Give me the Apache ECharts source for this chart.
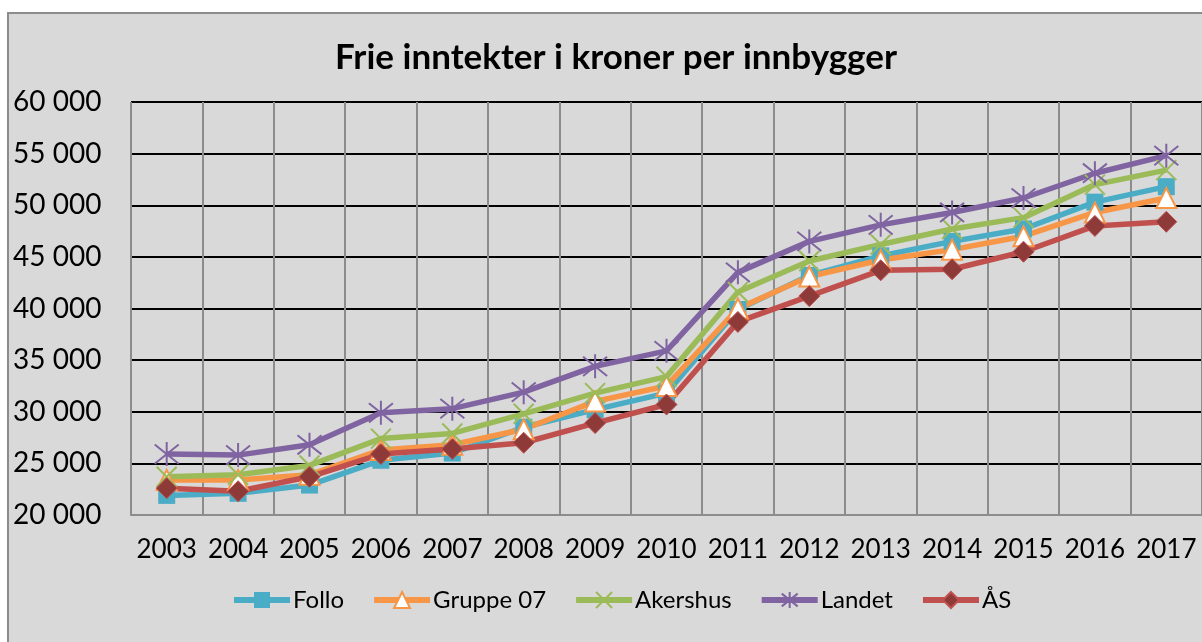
<!DOCTYPE html>
<html>
<head>
<meta charset="utf-8">
<script src="https://cdn.jsdelivr.net/npm/echarts@6/dist/echarts.min.js"></script>
<style>
html,body{margin:0;padding:0;background:#fff;}
#c{width:1202px;height:642px;}
</style>
</head>
<body>
<div id="c"></div>
<script>
const years = ['2003','2004','2005','2006','2007','2008','2009','2010','2011','2012','2013','2014','2015','2016','2017'];
const follo    = [21900, 22100, 22900, 25300, 26000, 28500, 30200, 31800, 39900, 43200, 45100, 46500, 47700, 50300, 51800];
const gruppe07 = [23400, 23400, 23900, 26300, 26800, 28300, 31000, 32500, 40000, 43100, 44700, 45700, 47000, 49300, 50700];
const akershus = [23700, 23900, 24800, 27400, 27900, 29800, 31800, 33400, 41600, 44600, 46200, 47700, 48800, 52000, 53400];
const landet   = [25900, 25800, 26800, 29900, 30300, 31900, 34400, 35900, 43500, 46500, 48100, 49300, 50700, 53100, 54800];
const aas      = [22600, 22300, 23700, 25900, 26400, 27000, 28900, 30700, 38700, 41200, 43700, 43800, 45500, 48000, 48400];
const titleText = 'Frie inntekter i kroner per innbygger';

const FONT = 'Lato, "Open Sans", sans-serif';
const X_PATH = 'path://M0,0L10,10M10,0L0,10';
const STAR_PATH = 'path://M1,1L9,9M9,1L1,9M5,0L5,10';

function fmt(v){ return String(v).replace(/\B(?=(\d{3})+(?!\d))/g, ' '); }

function mk(name, data, color, symbol, size, itemStyle){
  return {
    name: name, type: 'line', data: data,
    symbol: symbol, symbolSize: size,
    lineStyle: {color: color, width: 5.5},
    itemStyle: itemStyle,
    emphasis: {disabled: true},
    animation: false
  };
}

const chart = echarts.init(document.getElementById('c'));
chart.setOption({
  backgroundColor: '#fff',
  animation: false,
  graphic: [{
    type: 'rect', z: 0, silent: true,
    shape: {x: 8, y: 13, width: 1210, height: 650},
    style: {fill: '#d9d9d9', stroke: '#8c8c8c', lineWidth: 2}
  }],
  title: {
    text: titleText, left: 611, textAlign: 'center', top: 35,
    textStyle: {fontFamily: FONT, fontWeight: 'bold', fontSize: 35, color: '#000'}
  },
  legend: {
    left: 226, top: 583,
    itemWidth: 56, itemHeight: 20, itemGap: 27,
    lineStyle: {width: 6},
    textStyle: {fontFamily: FONT, fontSize: 24, color: '#000', padding: [0,0,0,-2]},
    data: ['Follo','Gruppe 07','Akershus','Landet','ÅS']
  },
  grid: {left: 131, top: 102, bottom: 127, right: -9, show: true, backgroundColor: '#fff', borderWidth: 0},
  xAxis: {
    type: 'category', data: years, boundaryGap: true,
    axisLine: {show: true, lineStyle: {color: '#8c8c8c', width: 2}},
    axisTick: {show: false},
    splitLine: {show: true, lineStyle: {color: '#8c8c8c', width: 2}},
    axisLabel: {fontFamily: FONT, fontSize: 26, color: '#000', margin: 22, interval: 0}
  },
  yAxis: {
    type: 'value', min: 20000, max: 60000, interval: 5000,
    axisLine: {show: false},
    axisTick: {show: false},
    splitLine: {show: true, lineStyle: {color: '#000', width: 2}},
    axisLabel: {fontFamily: FONT, fontSize: 28, color: '#000', align: 'left', margin: 118, formatter: fmt}
  },
  series: [
    mk('Follo', follo, '#4bacc6', 'rect', 17, {color: '#4bacc6'}),
    mk('Gruppe 07', gruppe07, '#f79646', 'triangle', 20, {color: '#fff', borderColor: '#f79646', borderWidth: 2}),
    mk('Akershus', akershus, '#9bbb59', X_PATH, 20, {color: 'rgba(0,0,0,0)', borderColor: '#9bbb59', borderWidth: 2}),
    mk('Landet', landet, '#8064a2', STAR_PATH, 24, {color: 'rgba(0,0,0,0)', borderColor: '#8064a2', borderWidth: 2}),
    mk('ÅS', aas, '#c0504d', 'diamond', 21, {color: '#8e3a38', borderColor: '#c0504d', borderWidth: 1})
  ]
});
</script>
</body>
</html>
